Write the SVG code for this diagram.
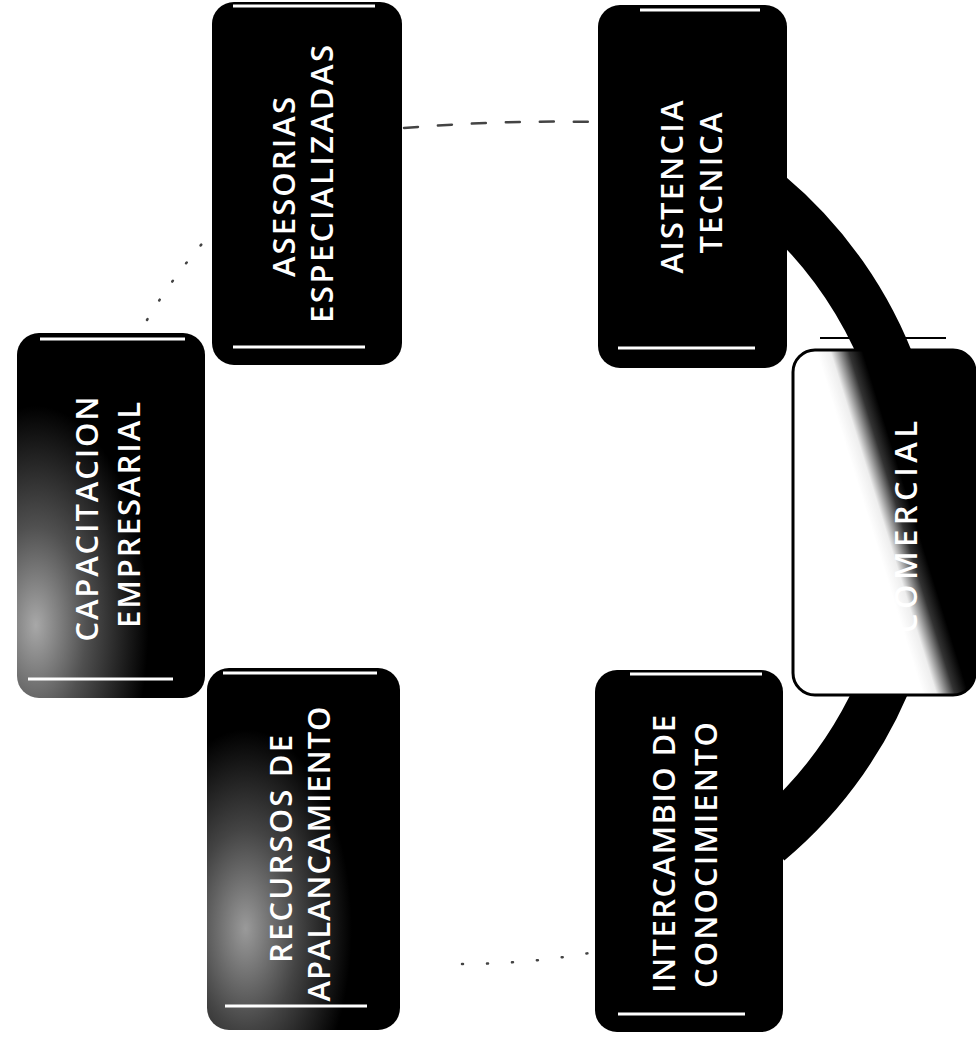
<svg xmlns="http://www.w3.org/2000/svg" width="976" height="1043" viewBox="0 0 976 1043">
<style>
.box{fill:#000;}
.hl{stroke:#fff;stroke-width:3;fill:none;}
.lbl{fill:#fff;font-family:"Open Sans","Liberation Sans",sans-serif;font-size:31px;font-weight:600;text-anchor:middle;}
.band{fill:none;stroke:#000;stroke-width:52;}
.faint{fill:none;stroke:#444;stroke-width:2.5;stroke-linecap:round;}
</style>
<defs>
<radialGradient id="gCap" cx="0.1" cy="0.8" r="0.6">
<stop offset="0" stop-color="#a8a8a8"/>
<stop offset="0.45" stop-color="#505050"/>
<stop offset="1" stop-color="#000"/>
</radialGradient>
<radialGradient id="gRec" cx="0.2" cy="0.72" r="0.55">
<stop offset="0" stop-color="#9a9a9a"/>
<stop offset="0.5" stop-color="#444"/>
<stop offset="1" stop-color="#000"/>
</radialGradient>
<linearGradient id="gCom" gradientUnits="userSpaceOnUse" x1="871" y1="527" x2="913" y2="514">
<stop offset="0" stop-color="#fff"/>
<stop offset="0.3" stop-color="#eee"/>
<stop offset="0.7" stop-color="#333"/>
<stop offset="1" stop-color="#000"/>
</linearGradient>
</defs>
<rect width="976" height="1043" fill="#fff"/>
<g id="connectors">
<path class="band" d="M 767.6 195.5 A 421 421 0 0 1 892.6 374"/>
<path class="band" d="M 892.6 662 A 421 421 0 0 1 767.6 840.5"/>
<path class="faint" stroke-dasharray="14 20" d="M 404 128 Q 500 120 598 122"/>
<path class="faint" stroke-dasharray="1 22" d="M 147 320 Q 172 278 207 238"/>
<path class="faint" stroke-dasharray="1 24" d="M 462 964 Q 530 964 595 952"/>
</g>
<g id="capacitacion">
<rect class="box" x="17" y="333" width="188" height="365" rx="22" style="fill:url(#gCap)"/>
<line class="hl" x1="40" y1="339" x2="185" y2="339"/>
<line class="hl" x1="28" y1="679" x2="173" y2="679"/>
<text class="lbl" transform="translate(98,519) rotate(-90)" textLength="245" lengthAdjust="spacing">CAPACITACION</text>
<text class="lbl" transform="translate(140,515) rotate(-90)" textLength="226" lengthAdjust="spacing">EMPRESARIAL</text>
</g>
<g id="asesorias">
<rect class="box" x="212" y="2" width="190" height="363" rx="22"/>
<line class="hl" x1="233" y1="6" x2="375" y2="6"/>
<line class="hl" x1="233" y1="347" x2="365" y2="347"/>
<text class="lbl" transform="translate(295,187) rotate(-90)" textLength="180" lengthAdjust="spacing">ASESORIAS</text>
<text class="lbl" transform="translate(333,184) rotate(-90)" textLength="278" lengthAdjust="spacing">ESPECIALIZADAS</text>
</g>
<g id="asistencia">
<rect class="box" x="598" y="5" width="189" height="363" rx="22"/>
<line class="hl" x1="640" y1="10" x2="760" y2="10"/>
<line class="hl" x1="618" y1="348" x2="755" y2="348"/>
<text class="lbl" transform="translate(683,187) rotate(-90)" textLength="173" lengthAdjust="spacing">AISTENCIA</text>
<text class="lbl" transform="translate(722,183) rotate(-90)" textLength="141" lengthAdjust="spacing">TECNICA</text>
</g>
<g id="comercial">
<line x1="820" y1="338" x2="946" y2="338" stroke="#000" stroke-width="2"/>
<rect x="793" y="350" width="182" height="345" rx="22" fill="url(#gCom)" stroke="#000" stroke-width="3"/>
<text class="lbl" transform="translate(917,527) rotate(-90)" textLength="212" lengthAdjust="spacing">COMERCIAL</text>
</g>
<g id="intercambio">
<rect class="box" x="595" y="670" width="188" height="362" rx="22"/>
<line class="hl" x1="630" y1="674" x2="762" y2="674"/>
<line class="hl" x1="618" y1="1014" x2="745" y2="1014"/>
<text class="lbl" transform="translate(675,854) rotate(-90)" textLength="278" lengthAdjust="spacing">INTERCAMBIO DE</text>
<text class="lbl" transform="translate(717,855) rotate(-90)" textLength="266" lengthAdjust="spacing">CONOCIMIENTO</text>
</g>
<g id="recursos">
<rect class="box" x="207" y="668" width="193" height="362" rx="22" style="fill:url(#gRec)"/>
<line class="hl" x1="223" y1="673" x2="377" y2="673"/>
<line class="hl" x1="225" y1="1006" x2="367" y2="1006"/>
<text class="lbl" transform="translate(292,849) rotate(-90)" textLength="228" lengthAdjust="spacing">RECURSOS DE</text>
<text class="lbl" transform="translate(330,854) rotate(-90)" textLength="295" lengthAdjust="spacing">APALANCAMIENTO</text>
</g>
</svg>
